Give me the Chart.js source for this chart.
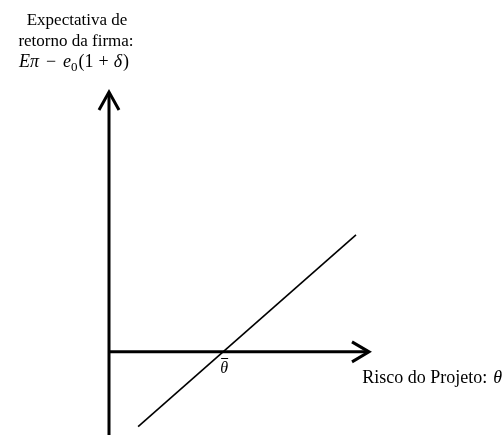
<!DOCTYPE html>
<html>
<head>
<meta charset="utf-8">
<script src="https://cdn.jsdelivr.net/npm/chart.js@4.4.1/dist/chart.umd.min.js"></script>
<style>
  html, body { margin: 0; padding: 0; background: #fff; }
  #wrap { position: relative; width: 504px; height: 435px; }
</style>
</head>
<body>
<div id="wrap"><canvas id="chart" width="504" height="435"></canvas></div>
<script>
// value ranges of the two axes (axes cross at 0,0)
const xRange = [0, 10];
const yRange = [-3.2, 10];

// the return line: two end points
const lineX = [1.12, 9.5];
const lineY = [-2.88, 4.5];

// crossing point label
const thetaBar = 4.39;

// axis titles
const yTitleLines = ['Expectativa de', 'retorno da firma:'];
const xTitle = 'Risco do Projeto:';

const SERIF = '"Liberation Serif", "Times New Roman", serif';

const points = lineX.map((x, i) => ({ x: x, y: lineY[i] }));

// draws the two axes with arrow heads plus the labels
const axesPlugin = {
  id: 'axesPlugin',
  afterDatasetsDraw(chart) {
    const ctx = chart.ctx;
    const xs = chart.scales.x, ys = chart.scales.y;
    const x0 = xs.getPixelForValue(0);
    const y0 = ys.getPixelForValue(0);
    const top = ys.getPixelForValue(yRange[1]);
    const bottom = ys.getPixelForValue(yRange[0]);
    const right = xs.getPixelForValue(xRange[1]);

    ctx.save();
    ctx.strokeStyle = '#000';
    ctx.lineWidth = 3;
    ctx.lineCap = 'butt';
    ctx.lineJoin = 'miter';

    // vertical axis
    ctx.beginPath();
    ctx.moveTo(x0, bottom);
    ctx.lineTo(x0, top + 1);
    ctx.stroke();
    ctx.beginPath();
    ctx.moveTo(x0 - 10, top + 18);
    ctx.lineTo(x0, top);
    ctx.lineTo(x0 + 10, top + 18);
    ctx.stroke();

    // horizontal axis
    ctx.beginPath();
    ctx.moveTo(x0, y0);
    ctx.lineTo(right - 1, y0);
    ctx.stroke();
    ctx.beginPath();
    ctx.moveTo(right - 17, y0 - 10);
    ctx.lineTo(right, y0);
    ctx.lineTo(right - 17, y0 + 10);
    ctx.stroke();

    // y axis title
    ctx.fillStyle = '#000';
    ctx.textBaseline = 'alphabetic';
    ctx.textAlign = 'center';
    ctx.font = '17px ' + SERIF;
    ctx.fillText(yTitleLines[0], 77, 25);
    ctx.fillText(yTitleLines[1], 76, 46);

    // formula: Eπ − e0(1 + δ), math-style spacing
    const parts = [
      { t: 'E\u03c0', f: 'italic 18px ' + SERIF, dy: 0, gap: 7 },
      { t: '\u2212', f: '18px ' + SERIF, dy: 0, gap: 7 },
      { t: 'e', f: 'italic 18px ' + SERIF, dy: 0, gap: 0 },
      { t: '0', f: '13px ' + SERIF, dy: 4, gap: 1 },
      { t: '(1', f: '18px ' + SERIF, dy: 0, gap: 5 },
      { t: '+', f: '18px ' + SERIF, dy: 0, gap: 5 },
      { t: '\u03b4', f: 'italic 18px ' + SERIF, dy: 0, gap: 1 },
      { t: ')', f: '18px ' + SERIF, dy: 0, gap: 0 }
    ];
    let total = 0;
    parts.forEach(p => { ctx.font = p.f; p.w = ctx.measureText(p.t).width; total += p.w + p.gap; });
    ctx.textAlign = 'left';
    let cx = 74 - total / 2;
    parts.forEach(p => { ctx.font = p.f; ctx.fillText(p.t, cx, 67 + p.dy); cx += p.w + p.gap; });

    // x axis title
    ctx.font = '18px ' + SERIF;
    const w1 = ctx.measureText(xTitle).width;
    ctx.font = 'italic 18px ' + SERIF;
    const w2 = ctx.measureText('\u03b8').width;
    const tx = 502 - w1 - w2 - 6;
    ctx.font = '18px ' + SERIF;
    ctx.fillText(xTitle, tx, 383);
    ctx.font = 'italic 18px ' + SERIF;
    ctx.fillText('\u03b8', tx + w1 + 6, 383);

    // theta bar under the crossing
    const tbx = xs.getPixelForValue(thetaBar) + 1;
    ctx.textAlign = 'center';
    ctx.font = 'italic 16px ' + SERIF;
    ctx.fillText('\u03b8', tbx, 373);
    ctx.lineWidth = 1;
    ctx.beginPath();
    ctx.moveTo(tbx - 3, 358.5);
    ctx.lineTo(tbx + 4, 358.5);
    ctx.stroke();
    ctx.restore();
  }
};

new Chart(document.getElementById('chart'), {
  type: 'scatter',
  data: {
    datasets: [{
      data: points,
      showLine: true,
      borderColor: '#000',
      borderWidth: 1.6,
      pointRadius: 0,
      fill: false
    }]
  },
  options: {
    responsive: false,
    animation: false,
    layout: { padding: { left: 109, right: 135, top: 92, bottom: 0 } },
    plugins: { legend: { display: false }, tooltip: { enabled: false } },
    scales: {
      x: { type: 'linear', display: false, min: xRange[0], max: xRange[1] },
      y: { type: 'linear', display: false, min: yRange[0], max: yRange[1] }
    }
  },
  plugins: [axesPlugin]
});
</script>
</body>
</html>
